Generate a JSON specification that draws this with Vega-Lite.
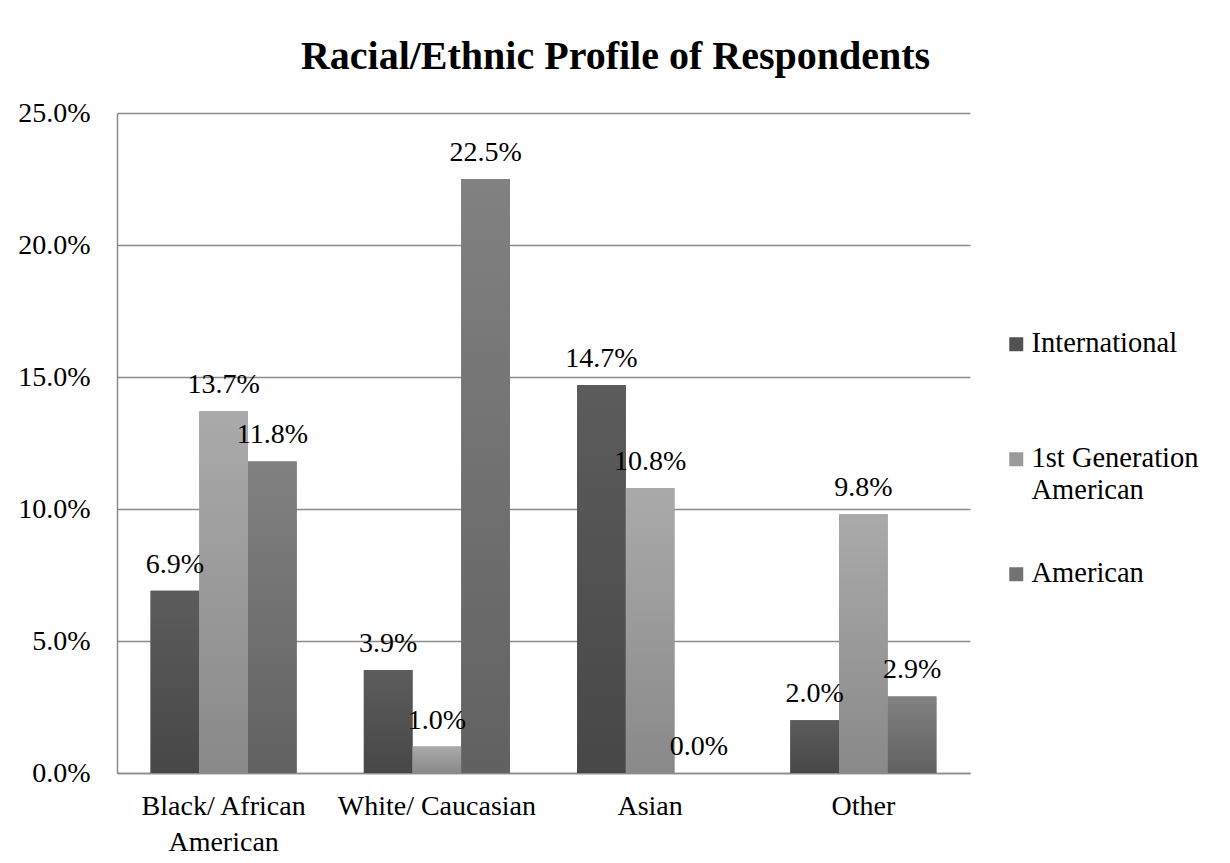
{
  "$schema": "https://vega.github.io/schema/vega-lite/v6.json",
  "width": 853,
  "height": 660,
  "autosize": {"type": "none"},
  "padding": {"left": 117, "top": 113, "right": 260, "bottom": 90},
  "background": "white",
  "title": {
    "text": "Racial/Ethnic Profile of Respondents",
    "font": "Liberation Serif",
    "fontSize": 40,
    "fontWeight": "bold",
    "color": "black",
    "anchor": "middle",
    "frame": "group",
    "dx": 72,
    "offset": 22
  },
  "config": {
    "view": {"stroke": null},
    "font": "Liberation Serif"
  },
  "data": {
    "values": [
      {"group": "Black/ African American", "series": "International", "share": 0.069},
      {"group": "Black/ African American", "series": "1st Generation American", "share": 0.137},
      {"group": "Black/ African American", "series": "American", "share": 0.118},
      {"group": "White/ Caucasian", "series": "International", "share": 0.039},
      {"group": "White/ Caucasian", "series": "1st Generation American", "share": 0.010},
      {"group": "White/ Caucasian", "series": "American", "share": 0.225},
      {"group": "Asian", "series": "International", "share": 0.147},
      {"group": "Asian", "series": "1st Generation American", "share": 0.108},
      {"group": "Asian", "series": "American", "share": 0.000},
      {"group": "Other", "series": "International", "share": 0.020},
      {"group": "Other", "series": "1st Generation American", "share": 0.098},
      {"group": "Other", "series": "American", "share": 0.029}
    ]
  },
  "encoding": {
    "x": {
      "field": "group",
      "type": "nominal",
      "sort": ["Black/ African American", "White/ Caucasian", "Asian", "Other"],
      "scale": {"paddingInner": 0.315, "paddingOuter": 0.1575},
      "axis": {
        "title": null,
        "labelAngle": 0,
        "labelFont": "Liberation Serif",
        "labelFontSize": 28,
        "labelColor": "black",
        "labelPadding": 19,
        "labelLineHeight": 36,
        "labelLimit": 400,
        "labelExpr": "datum.label == 'Black/ African American' ? ['Black/ African', 'American'] : datum.label",
        "ticks": false,
        "domainColor": "#8c8c8c",
        "domainWidth": 1.5,
        "grid": false
      }
    },
    "xOffset": {
      "field": "series",
      "type": "nominal",
      "sort": ["International", "1st Generation American", "American"]
    },
    "y": {
      "field": "share",
      "type": "quantitative",
      "scale": {"domain": [0, 0.25], "nice": false},
      "axis": {
        "title": null,
        "values": [0, 0.05, 0.1, 0.15, 0.2, 0.25],
        "format": ".1%",
        "labelFont": "Liberation Serif",
        "labelFontSize": 28,
        "labelColor": "black",
        "labelPadding": 27,
        "ticks": false,
        "domainColor": "#8c8c8c",
        "domainWidth": 1.5,
        "gridColor": "#8c8c8c",
        "gridWidth": 1.5
      }
    }
  },
  "layer": [
    {
      "mark": {"type": "bar"},
      "encoding": {
        "color": {
          "field": "series",
          "type": "nominal",
          "sort": ["International", "1st Generation American", "American"],
          "scale": {
            "domain": ["International", "1st Generation American", "American"],
            "range": ["#525252", "#9a9a9a", "#727272"]
          },
          "legend": {
            "title": null,
            "orient": "none",
            "legendX": 885,
            "legendY": 217,
            "symbolType": "square",
            "symbolSize": 196,
            "symbolStrokeWidth": 0,
            "labelFont": "Liberation Serif",
            "labelFontSize": 28.5,
            "labelColor": "black",
            "labelOffset": 1,
            "labelLimit": 300,
            "labelBaseline": "top",
            "rowPadding": 54,
            "labelExpr": "datum.label == '1st Generation American' ? ['1st Generation', 'American'] : [datum.label, '']",
            "encode": {
              "labels": {"update": {"dy": {"value": -15}, "lineHeight": {"value": 32}}}
            }
          }
        }
      }
    },
    {
      "mark": {"type": "bar"},
      "encoding": {
        "fill": {
          "condition": [
            {"test": "datum.series === 'International'", "value": {"gradient": "linear", "x1": 0, "y1": 0, "x2": 0, "y2": 1, "stops": [{"offset": 0, "color": "#5c5c5c"}, {"offset": 1, "color": "#474747"}]}},
            {"test": "datum.series === '1st Generation American'", "value": {"gradient": "linear", "x1": 0, "y1": 0, "x2": 0, "y2": 1, "stops": [{"offset": 0, "color": "#aaaaaa"}, {"offset": 1, "color": "#898989"}]}}
          ],
          "value": {"gradient": "linear", "x1": 0, "y1": 0, "x2": 0, "y2": 1, "stops": [{"offset": 0, "color": "#818181"}, {"offset": 1, "color": "#616161"}]}
        }
      }
    },
    {
      "mark": {"type": "text", "baseline": "middle", "dy": -26, "fontSize": 28, "font": "Liberation Serif", "color": "black"},
      "encoding": {
        "text": {"field": "share", "type": "quantitative", "format": ".1%"}
      }
    }
  ]
}
